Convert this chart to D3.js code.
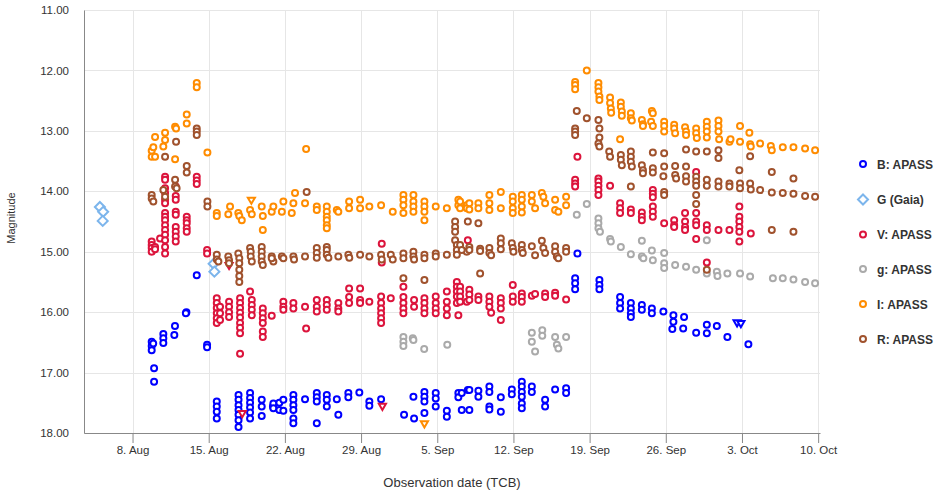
<!DOCTYPE html>
<html>
<head>
<meta charset="utf-8">
<script src="https://cdn.jsdelivr.net/npm/d3@7"></script>
<style>
  html, body { margin: 0; padding: 0; background: #fff; }
  svg { display: block; font-family: "Liberation Sans", Arial, sans-serif; }
</style>
</head>
<body>
<svg id="chart" width="939" height="497"></svg>
<script>
// Light curve: days are counted from 31 July (day 8 = 8 Aug), values are magnitudes.
const seriesNames = ["B: APASS", "G (Gaia)", "V: APASS", "g: APASS", "I: APASS", "R: APASS"];
const seriesColors = ["#0000ff", "#7cb5ec", "#dc143c", "#aaaaaa", "#ff8c00", "#a0522d"];
const tickDays = [8, 15, 22, 29, 36, 43, 50, 57, 64, 71];
const magTicks = [11, 12, 13, 14, 15, 16, 17, 18];

const bApass = [
  [9.76,16.49],[9.76,16.56],[9.76,16.63],[9.9,16.52],[9.98,16.93],[9.98,17.15],
  [10.83,16.36],[10.83,16.43],[10.83,16.51],[11.9,16.23],[11.84,16.38],
  [12.95,16.0],[12.9,16.02],[13.9,15.39],[14.85,16.54],[14.85,16.58],
  [15.74,17.48],[15.74,17.56],[15.74,17.65],[15.74,17.76],
  [17.74,17.37],[17.74,17.45],[17.74,17.54],[17.74,17.62],[17.74,17.7],[17.74,17.79],[17.74,17.9],
  [18.8,17.34],[18.8,17.42],[18.8,17.5],[18.8,17.58],[18.8,17.66],[18.8,17.76],
  [19.87,17.45],[19.87,17.56],[19.87,17.72],[20.9,17.56],[20.94,17.51],[20.94,17.59],
  [21.49,17.5],[21.49,17.62],[21.86,17.45],[21.86,17.63],
  [22.78,17.37],[22.78,17.45],[22.78,17.54],[22.78,17.62],[22.78,17.76],[22.78,17.84],
  [23.85,17.44],[24.93,17.34],[24.93,17.41],[24.93,17.48],[24.93,17.84],
  [25.85,17.37],[25.85,17.45],[25.85,17.56],[26.77,17.44],[26.91,17.7],
  [27.83,17.34],[27.83,17.41],[28.84,17.33],[29.76,17.48],[29.76,17.55],[30.84,17.44],
  [32.95,17.7],[33.81,17.4],[33.87,17.76],
  [34.82,17.32],[34.82,17.4],[34.82,17.48],[34.82,17.67],
  [35.86,17.34],[35.86,17.43],[35.86,17.56],[36.88,17.63],[36.88,17.73],
  [37.94,17.34],[37.94,17.41],[38.25,17.34],[38.25,17.62],[38.81,17.29],
  [38.95,17.29],[38.95,17.62],[39.78,17.3],[39.78,17.4],
  [40.79,17.23],[40.79,17.32],[40.79,17.56],[40.79,17.61],[41.84,17.41],[41.84,17.65],
  [42.85,17.28],[42.85,17.36],
  [43.77,17.15],[43.77,17.23],[43.77,17.32],[43.77,17.4],[43.77,17.51],[43.77,17.59],
  [44.69,17.23],[44.69,17.32],[45.91,17.45],[45.91,17.56],[46.83,17.28],
  [47.84,17.26],[47.84,17.34],
  [48.88,15.03],[48.67,15.44],[48.67,15.52],[48.67,15.62],
  [50.9,15.47],[50.9,15.55],[50.9,15.62],[52.8,15.75],[52.8,15.85],[52.8,15.94],
  [53.79,15.85],[53.79,15.94],[53.79,16.02],[53.79,16.08],[54.8,15.88],[54.8,15.96],
  [55.72,15.94],[55.72,16.02],[56.78,15.99],[57.7,16.05],[57.7,16.16],[57.6,16.28],
  [58.68,16.08],[58.6,16.27],[59.79,16.34],[60.77,16.21],[60.77,16.35],
  [61.69,16.23],[62.66,16.41],[64.59,16.53]
];
const bLimits = [[63.55,16.17],[63.9,16.18]];

const gGaia = [[5.0,14.26],[5.3,14.34],[5.26,14.49],[15.45,15.2],[15.52,15.33]];

const vApass = [
  [9.76,14.83],[9.76,14.89],[9.76,14.94],[9.76,15.0],[10.07,14.92],[10.07,14.96],[10.53,14.78],
  [10.99,13.76],[10.99,13.81],[10.99,13.95],[10.99,14.03],[10.99,14.14],[10.99,14.2],
  [10.99,14.36],[10.99,14.42],[10.99,14.48],[10.99,14.56],[10.99,14.64],[10.99,14.72],
  [10.99,14.81],[10.99,14.92],[10.99,15.03],
  [11.97,13.92],[11.97,14.08],[11.97,14.14],[11.97,14.34],[11.97,14.39],[11.97,14.59],
  [11.97,14.67],[11.97,14.75],[11.97,14.83],
  [12.98,14.42],[12.98,14.48],[12.98,14.53],[12.98,14.61],[12.98,14.67],
  [13.9,13.76],[13.9,13.82],[13.9,13.88],[14.85,14.97],[14.85,15.03],
  [15.74,15.77],[15.74,15.85],[15.74,15.93],[15.74,16.02],[15.74,16.1],[15.74,16.18],
  [16.04,15.91],[16.04,16.02],[16.04,16.13],
  [16.87,15.83],[16.87,15.91],[16.87,16.0],[16.87,16.08],
  [17.88,15.77],[17.88,15.85],[17.88,15.93],[17.88,16.01],[17.88,16.09],[17.88,16.18],
  [17.88,16.26],[17.88,16.35],[17.88,16.69],
  [18.8,15.66],[18.96,15.8],[18.96,15.88],[18.96,15.96],[18.96,16.05],
  [19.97,15.94],[19.97,16.02],[19.97,16.1],[19.97,16.18],[19.97,16.32],[19.97,16.41],
  [20.79,16.06],[21.86,15.83],[21.86,15.91],[21.86,15.96],[22.78,15.85],[22.78,15.94],
  [23.85,15.91],[23.95,16.27],[24.93,15.8],[24.93,15.91],[24.93,15.99],
  [25.85,15.8],[25.85,15.88],[25.85,15.96],[26.91,15.85],[26.91,15.94],[26.91,15.99],
  [27.9,15.61],[27.9,15.75],[27.9,15.85],[28.91,15.61],[28.91,15.8],[28.91,15.85],
  [29.76,15.83],
  [30.84,15.74],[30.84,15.85],[30.84,15.94],[30.84,16.02],[30.84,16.1],[30.84,16.18],
  [30.9,14.87],[30.9,15.18],[31.73,15.77],
  [32.89,15.58],[32.89,15.75],[32.89,15.85],[32.89,15.94],[32.89,16.02],
  [33.87,15.8],[33.87,15.91],[34.82,15.77],[34.82,15.85],[34.82,15.94],[34.82,16.02],
  [35.86,15.74],[35.86,15.85],[35.86,15.94],[35.86,16.02],
  [36.88,15.66],[36.88,15.83],[36.88,15.94],[36.88,16.05],
  [37.8,15.5],[37.8,15.58],[37.8,15.66],[37.8,15.74],[37.8,15.85],[37.94,16.05],
  [38.1,15.58],[38.1,15.66],[38.1,15.74],[38.1,15.83],[38.71,15.83],[38.81,14.81],
  [38.95,15.63],[38.95,15.71],[38.95,15.8],[39.78,15.74],[39.78,15.8],
  [40.79,15.74],[40.79,15.83],[40.79,15.91],[40.95,16.01],
  [41.84,15.77],[41.84,15.85],[41.84,15.94],[41.84,16.13],
  [42.94,15.55],[42.94,15.74],[42.94,15.83],[43.77,15.69],[43.77,15.75],[43.77,15.83],
  [44.69,15.73],[44.99,15.7],[45.91,15.69],[45.91,15.75],[46.83,15.68],[46.83,15.73],
  [47.84,15.79],
  [48.88,13.43],[48.67,13.81],[48.67,13.87],[48.67,13.92],
  [50.81,13.79],[50.81,13.84],[50.81,13.91],[50.81,13.98],[50.81,14.06],[51.88,13.91],
  [52.8,14.2],[52.8,14.28],[52.8,14.36],[53.79,14.3],[53.79,14.36],
  [54.8,14.35],[54.8,14.42],[54.8,14.48],
  [55.81,13.98],[55.81,14.04],[55.81,14.1],[55.81,14.25],[55.81,14.34],[55.81,14.42],
  [56.85,14.53],[57.77,14.48],[57.77,14.56],[57.77,14.59],
  [58.77,14.36],[58.77,14.5],[58.77,14.59],[58.77,14.64],
  [59.79,13.68],[59.79,14.36],[59.79,14.5],[59.79,14.56],[59.79,14.79],
  [60.77,14.56],[60.77,14.64],[60.77,15.18],[61.84,14.64],[62.85,14.64],
  [63.76,14.25],[63.76,14.42],[63.76,14.5],[63.76,14.59],[63.76,14.67],[63.76,14.83],
  [64.81,14.7]
];
const vLimits = [[16.87,15.22],[18.08,17.67],[30.96,17.55]];

const gApass = [
  [32.89,16.41],[32.89,16.49],[32.89,16.56],[33.75,16.43],[33.81,16.46],[34.8,16.61],
  [36.92,16.54],[44.69,16.34],[44.69,16.49],[44.99,16.65],[45.65,16.3],[45.65,16.39],
  [46.83,16.41],[46.99,16.54],[47.13,16.6],[47.84,16.41],
  [48.82,14.39],[49.74,14.21],[50.81,14.45],[50.81,14.53],[50.81,14.61],[50.95,14.67],
  [51.88,14.79],[51.95,14.83],[52.87,14.92],[53.79,15.04],
  [54.8,14.82],[54.8,15.08],[54.94,15.11],[55.72,14.98],[55.81,15.14],
  [56.85,15.02],[56.85,15.19],[56.85,15.27],[57.86,15.22],[58.86,15.25],[59.79,15.3],
  [60.77,14.81],[60.77,15.36],[61.69,15.33],[61.75,15.4],[62.66,15.36],[63.82,15.36],
  [64.75,15.41],[66.84,15.44],[67.75,15.44],[68.73,15.46],[69.8,15.5],[70.72,15.52]
];

const iApass = [
  [9.76,13.33],[9.76,13.43],[9.91,13.27],[10.07,13.1],[10.07,13.43],[10.83,13.26],
  [10.99,13.03],[10.99,13.15],[11.91,12.93],[12.0,12.96],[11.91,13.47],
  [12.98,12.73],[12.98,12.88],[13.9,12.21],[13.9,12.28],[14.88,13.36],
  [15.74,14.36],[15.74,14.41],[16.8,14.38],[16.96,14.25],
  [17.72,14.36],[17.81,14.41],[18.04,14.48],[18.8,14.31],[18.96,14.38],
  [19.87,14.25],[19.97,14.41],[19.97,14.64],[20.79,14.34],[20.94,14.25],
  [21.72,14.34],[21.86,14.17],[22.63,14.36],[22.78,14.2],[22.93,14.03],
  [23.85,14.2],[23.95,13.3],[24.93,14.25],[24.93,14.31],
  [25.85,14.25],[25.85,14.34],[25.85,14.42],[25.85,14.48],[25.85,14.56],[25.85,14.61],
  [26.77,14.31],[26.91,14.34],[27.9,14.17],[27.9,14.28],[28.91,14.14],[28.91,14.28],
  [29.76,14.25],[30.84,14.23],[31.91,14.34],
  [32.89,14.06],[32.89,14.14],[32.89,14.23],[32.89,14.36],
  [33.81,14.06],[33.81,14.17],[33.81,14.25],[33.81,14.34],
  [34.82,14.17],[34.82,14.25],[34.82,14.34],[34.82,14.48],
  [35.86,14.25],[36.88,14.28],[37.94,14.14],[37.94,14.23],[38.71,14.23],[38.71,14.28],
  [38.1,14.17],[38.1,14.28],[38.95,14.2],[38.95,14.3],[39.78,14.2],[39.78,14.28],
  [40.79,14.06],[40.79,14.2],[40.79,14.31],[41.84,14.01],[41.84,14.28],
  [42.94,14.09],[42.94,14.17],[42.94,14.28],[42.94,14.36],
  [43.77,14.06],[43.77,14.14],[43.77,14.25],[43.77,14.35],
  [44.69,14.06],[44.69,14.17],[44.99,14.28],[45.61,14.03],[45.75,14.09],[45.91,14.2],
  [46.83,14.14],[46.83,14.31],[47.13,14.34],[47.84,14.09],[47.84,14.23],
  [49.74,12.0],[48.67,12.19],[48.67,12.24],[48.67,12.31],
  [50.81,12.21],[50.81,12.28],[50.81,12.35],[50.9,12.43],[50.9,12.49],
  [51.88,12.45],[51.88,12.54],[51.95,12.63],[51.98,12.7],
  [52.87,12.53],[52.87,12.6],[52.96,12.68],[52.96,12.75],[52.8,13.14],
  [53.79,12.71],[53.79,12.79],[53.88,12.83],[54.8,12.82],[54.9,12.89],[54.9,12.92],
  [55.72,12.67],[55.81,12.71],[55.65,12.85],[55.81,12.92],
  [56.85,12.85],[56.85,12.92],[56.85,13.01],[57.77,12.9],[57.77,12.96],[57.86,13.04],
  [58.77,12.94],[58.86,13.01],[58.86,13.07],[59.79,12.96],[59.79,13.04],[59.85,13.12],
  [60.77,12.85],[60.77,12.93],[60.77,13.01],[60.77,13.11],
  [61.84,12.83],[61.84,12.92],[61.84,13.01],[61.9,13.14],
  [62.85,13.18],[62.95,13.14],[63.82,12.92],[63.82,13.18],
  [64.68,13.03],[64.75,13.22],[64.81,13.26],[65.67,13.21],
  [66.65,13.25],[66.74,13.32],[67.75,13.27],[68.73,13.27],[69.8,13.29],[70.72,13.32]
];
const iLimits = [[18.92,14.14],[34.82,17.84]];

const rApass = [
  [9.76,14.06],[9.76,14.12],[9.91,14.17],[10.83,13.98],[10.99,14.09],[10.99,13.43],
  [11.91,13.81],[11.91,13.92],[12.05,13.95],[12.0,13.18],[12.98,13.58],[12.98,13.69],
  [13.9,12.96],[13.9,13.01],[13.9,13.07],[14.88,14.17],[14.88,14.25],
  [15.74,15.05],[15.74,15.13],[15.89,15.16],[16.8,15.08],[16.87,15.14],[16.87,15.19],
  [17.72,15.03],[17.81,15.11],[17.81,15.19],[17.81,15.3],[17.81,15.4],[17.81,15.5],
  [18.8,14.94],[18.86,15.0],[18.86,15.08],[18.96,15.16],
  [19.87,14.92],[19.87,15.0],[19.87,15.08],[19.87,15.16],[19.97,15.22],
  [20.79,15.08],[20.94,15.16],[20.79,15.11],[21.72,15.08],[21.86,15.11],
  [22.78,15.08],[22.84,15.13],[23.85,15.08],[24.0,14.01],
  [24.93,14.94],[24.93,15.02],[24.93,15.1],[25.85,14.92],[25.85,14.97],[25.85,15.05],
  [26.0,15.1],[26.91,15.08],[27.83,15.05],[27.92,15.1],[28.91,15.05],[29.76,15.08],
  [30.84,15.05],[30.9,15.13],[31.73,15.05],[31.91,15.13],
  [32.89,15.03],[32.89,15.11],[32.89,15.44],[33.81,15.0],[33.81,15.08],[33.87,15.13],
  [34.82,15.05],[34.82,15.11],[34.82,15.47],[35.86,15.03],[35.86,15.08],[36.88,15.05],
  [37.64,14.5],[37.64,14.59],[37.64,14.67],[37.64,14.81],[37.8,14.89],[37.8,14.97],[37.8,15.05],
  [38.71,15.0],[38.1,14.89],[38.25,14.97],[38.81,14.5],[39.78,14.53],
  [38.95,14.92],[38.95,14.97],[39.94,14.95],[39.94,14.99],[39.94,15.36],
  [40.79,14.94],[40.79,15.02],[40.95,15.06],[41.84,14.78],[41.84,14.86],[41.84,14.96],
  [42.85,14.86],[42.94,14.94],[43.0,15.0],[43.77,14.89],[43.77,14.97],[43.86,15.02],
  [44.69,14.91],[44.99,15.06],[45.61,14.82],[45.75,14.94],[45.91,15.02],
  [46.83,14.91],[46.83,15.0],[46.99,15.08],[47.13,15.11],[47.84,14.94],[47.84,15.0],
  [48.82,12.67],[49.74,12.79],[48.67,12.96],[48.67,13.01],[48.67,13.07],
  [50.81,12.82],[50.9,12.96],[50.9,13.11],[50.81,13.21],[50.9,13.26],
  [51.8,13.34],[51.88,13.43],[52.87,13.4],[52.87,13.48],[52.96,13.57],
  [53.79,13.34],[53.79,13.43],[53.79,13.51],[53.88,13.59],[53.79,13.92],
  [54.8,13.57],[54.9,13.65],[54.9,13.7],[55.81,13.36],[55.81,13.62],[55.81,13.69],
  [56.85,13.37],[56.85,13.59],[56.78,13.75],[56.85,14.01],[56.85,14.06],
  [57.86,13.58],[57.86,13.73],[57.95,13.79],[58.86,13.31],[58.86,13.59],[58.86,13.75],[58.86,13.84],
  [59.79,13.34],[59.79,13.76],[59.79,13.84],[59.79,13.91],[59.79,14.06],[59.79,14.21],
  [60.77,13.34],[60.77,13.81],[60.77,13.91],[60.77,15.3],
  [61.84,13.32],[61.84,13.45],[61.84,13.84],[61.84,13.92],[62.85,13.87],[62.85,13.92],
  [63.76,13.65],[63.82,13.87],[63.82,13.95],[64.75,13.42],[64.75,13.87],[64.81,13.97],
  [65.67,13.98],[66.74,13.68],[66.74,14.02],[66.74,14.64],[67.75,14.03],
  [68.73,13.79],[68.73,14.04],[68.73,14.67],[69.8,14.08],[70.72,14.09]
];

const baseTime = Date.UTC(2023, 6, 31);
const toDate = d => new Date(baseTime + d * 864e5);

const svg = d3.select("#chart");
const margin = { left: 84, right: 820, top: 10, bottom: 433 };

const x = d3.scaleUtc()
  .domain([toDate(3.54), toDate(71.17)])
  .range([margin.left, margin.right]);
const y = d3.scaleLinear().domain([11, 18]).range([margin.top, margin.bottom]);

svg.append("rect").attr("width", 939).attr("height", 497).attr("fill", "#fff");

// grid
const grid = svg.append("g");
grid.selectAll("line.h").data(magTicks).join("line")
  .attr("x1", margin.left).attr("x2", margin.right)
  .attr("y1", d => Math.round(y(d)) + 0.5).attr("y2", d => Math.round(y(d)) + 0.5)
  .attr("stroke", "#e6e6e6").attr("stroke-width", 1);
grid.selectAll("line.v").data(tickDays).join("line")
  .attr("x1", d => Math.round(x(toDate(d))) + 0.5).attr("x2", d => Math.round(x(toDate(d))) + 0.5)
  .attr("y1", margin.top).attr("y2", margin.bottom)
  .attr("stroke", "#e6e6e6").attr("stroke-width", 1);

// axes
const xAxis = d3.axisBottom(x)
  .tickValues(tickDays.map(toDate))
  .tickFormat(d3.utcFormat("%-d. %b"))
  .tickSize(10).tickSizeOuter(0).tickPadding(3);
const gx = svg.append("g").attr("transform", `translate(0,${margin.bottom})`).call(xAxis);
gx.select(".domain").attr("stroke", "#888");
gx.selectAll(".tick line").attr("stroke", "#888");
gx.selectAll(".tick text").attr("fill", "#333").style("font-size", "11.5px")
  .style("font-family", "'Liberation Sans', Arial, sans-serif");

const yAxis = d3.axisLeft(y).tickValues(magTicks).tickFormat(d3.format(".2f"))
  .tickSize(0).tickPadding(15);
const gy = svg.append("g").attr("transform", `translate(${margin.left},0)`).call(yAxis);
gy.select(".domain").attr("stroke", "#888");
gy.selectAll(".tick text").attr("fill", "#333").style("font-size", "11.5px")
  .style("font-family", "'Liberation Sans', Arial, sans-serif");

svg.append("text").attr("x", (margin.left + margin.right) / 2).attr("y", 487)
  .attr("text-anchor", "middle").attr("fill", "#333").style("font-size", "13px")
  .text("Observation date (TCB)");
svg.append("text").attr("transform", "translate(15,218) rotate(-90)")
  .attr("text-anchor", "middle").attr("fill", "#333").style("font-size", "11px")
  .text("Magnitude");

// marks
const plot = svg.append("g");
function circles(data, color) {
  plot.append("g").selectAll("circle").data(data).join("circle")
    .attr("cx", d => x(toDate(d[0]))).attr("cy", d => y(d[1]))
    .attr("r", 3).attr("fill", "#fff")
    .attr("stroke", color).attr("stroke-width", 2);
}
function diamonds(data, color) {
  plot.append("g").selectAll("path").data(data).join("path")
    .attr("transform", d => `translate(${x(toDate(d[0]))},${y(d[1])})`)
    .attr("d", "M0,-5L5,0L0,5L-5,0Z")
    .attr("fill", "#fff").attr("stroke", color).attr("stroke-width", 2);
}
const tri = d3.symbol(d3.symbolTriangle, 22)();
function limits(data, color) {
  plot.append("g").selectAll("path").data(data).join("path")
    .attr("transform", d => `translate(${x(toDate(d[0]))},${y(d[1])}) rotate(180)`)
    .attr("d", tri)
    .attr("fill", "#fff").attr("stroke", color).attr("stroke-width", 2);
}

circles(bApass, seriesColors[0]);
limits(bLimits, seriesColors[0]);
diamonds(gGaia, seriesColors[1]);
circles(vApass, seriesColors[2]);
limits(vLimits, seriesColors[2]);
circles(gApass, seriesColors[3]);
circles(iApass, seriesColors[4]);
limits(iLimits, seriesColors[4]);
circles(rApass, seriesColors[5]);

// legend
const legendY = [164, 199.5, 234.5, 269, 304, 339];
const legend = svg.append("g");
seriesNames.forEach((name, i) => {
  const row = legend.append("g").attr("transform", `translate(0,${legendY[i]})`);
  if (i === 1) {
    row.append("path").attr("d", "M863,-5L868,0L863,5L858,0Z")
      .attr("fill", "#fff").attr("stroke", seriesColors[i]).attr("stroke-width", 2);
  } else {
    row.append("circle").attr("cx", 863).attr("cy", 0).attr("r", 3)
      .attr("fill", "#fff").attr("stroke", seriesColors[i]).attr("stroke-width", 2);
  }
  row.append("text").attr("x", 877).attr("y", 4.5)
    .attr("fill", "#333").style("font-size", "12px").style("font-weight", "bold")
    .text(name);
});
</script>
</body>
</html>
